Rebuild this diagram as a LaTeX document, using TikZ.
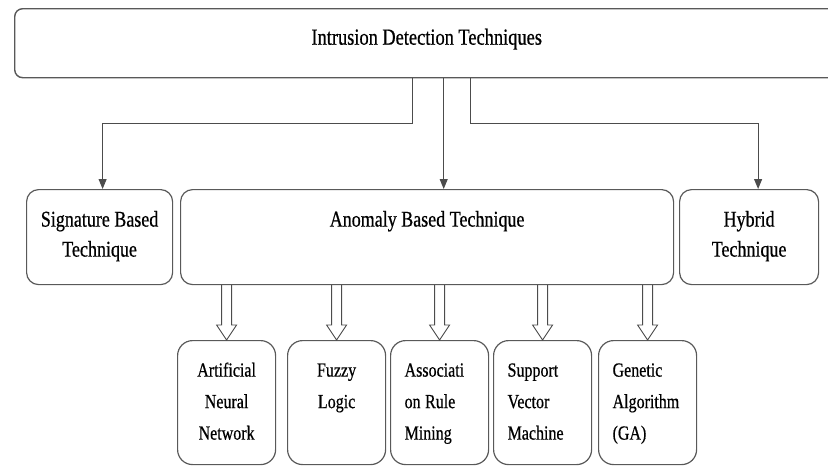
\documentclass[tikz,border=0pt]{standalone}
\usepackage{fontspec}
\setmainfont{Liberation Serif}
\newfontfamily\boxfont[FakeStretch=0.8, FakeBold=0.6]{Liberation Serif}
\usepackage{tikz}
\usetikzlibrary{arrows.meta,calc}
\definecolor{boxgray}{rgb}{0.35,0.35,0.35}
\definecolor{linegray}{rgb}{0.3,0.3,0.3}

% hollow block arrow from the bottom of #1 to the top of #2
\newcommand{\hollowdown}[2]{%
  \draw[hollow] let \p1=(#2.north), \p2=(#1.south) in
    (\x1-5pt,\y2) -- (\x1-5pt,\y1+15pt) -- (\x1-10pt,\y1+15pt) -- (\x1,\y1)
    -- (\x1+10pt,\y1+15pt) -- (\x1+5pt,\y1+15pt) -- (\x1+5pt,\y2);}

\begin{document}
\begin{tikzpicture}[x=1pt, y=-1pt,
  every node/.style={execute at begin node={\spaceskip=4.5pt\relax}},
  bigbox/.style={draw=boxgray, line width=1.4pt, rounded corners=8pt, align=center, inner sep=0pt,
    font=\boxfont\fontsize{23}{30}\selectfont},
  midbox/.style={draw=boxgray, line width=1.2pt, rounded corners=12pt, align=center, inner sep=0pt,
    anchor=north west, text height=37pt, text depth=58pt, font=\boxfont\fontsize{22.5}{30}\selectfont},
  leafbox/.style={draw=boxgray, line width=1.2pt, rounded corners=15pt, anchor=north west,
    text width=70pt, inner xsep=14pt, inner ysep=0pt, text height=36pt, text depth=88pt,
    font=\boxfont\fontsize{20}{31.5}\selectfont},
  conn/.style={draw=linegray, line width=1pt, -{Triangle[length=10pt,width=8pt]}},
  hollow/.style={draw=linegray, line width=0.9pt}]
  \useasboundingbox (0,0) rectangle (828,466);
  \clip (0,0) rectangle (828,466);

  % Root box
  \node[bigbox, anchor=north west, text width=824pt, text height=36pt, text depth=33pt]
    (idt) at (14,8) {Intrusion Detection Techniques};

  % Second level
  \node[midbox, text width=146pt] (sig) at (26,189) {Signature Based\\Technique};
  \node[midbox, text width=493pt] (anom) at (180,189) {Anomaly Based Technique};
  \node[midbox, text width=139pt] (hyb) at (679,189) {Hybrid\\Technique};

  % Branches
  \coordinate (tapL) at ([xshift=-14pt]idt.south);
  \coordinate (tapM) at ([xshift=17pt]idt.south);
  \coordinate (tapR) at ([xshift=44pt]idt.south);
  \draw[conn] (tapL) -- ++(0,45) -| ([xshift=3pt]sig.north);
  \draw[conn] (tapM) -- (tapM |- anom.north);
  \draw[conn] (tapR) -- ++(0,45) -| ([xshift=9pt]hyb.north);

  % Anomaly methods
  \node[leafbox, align=center] (ann) at (177,340) {Artificial\\Neural\\Network};
  \node[leafbox, align=center] (fuzzy) at (287,340) {Fuzzy\\Logic};
  \node[leafbox, align=left] (arm) at (390,340) {Associati\\on Rule\\Mining};
  \node[leafbox, align=left] (svm) at (493,340) {Support\\Vector\\Machine};
  \node[leafbox, align=left] (ga) at (598,340) {Genetic\\Algorithm\\(GA)};

  \hollowdown{anom}{ann}
  \hollowdown{anom}{fuzzy}
  \hollowdown{anom}{arm}
  \hollowdown{anom}{svm}
  \hollowdown{anom}{ga}
\end{tikzpicture}
\end{document}
